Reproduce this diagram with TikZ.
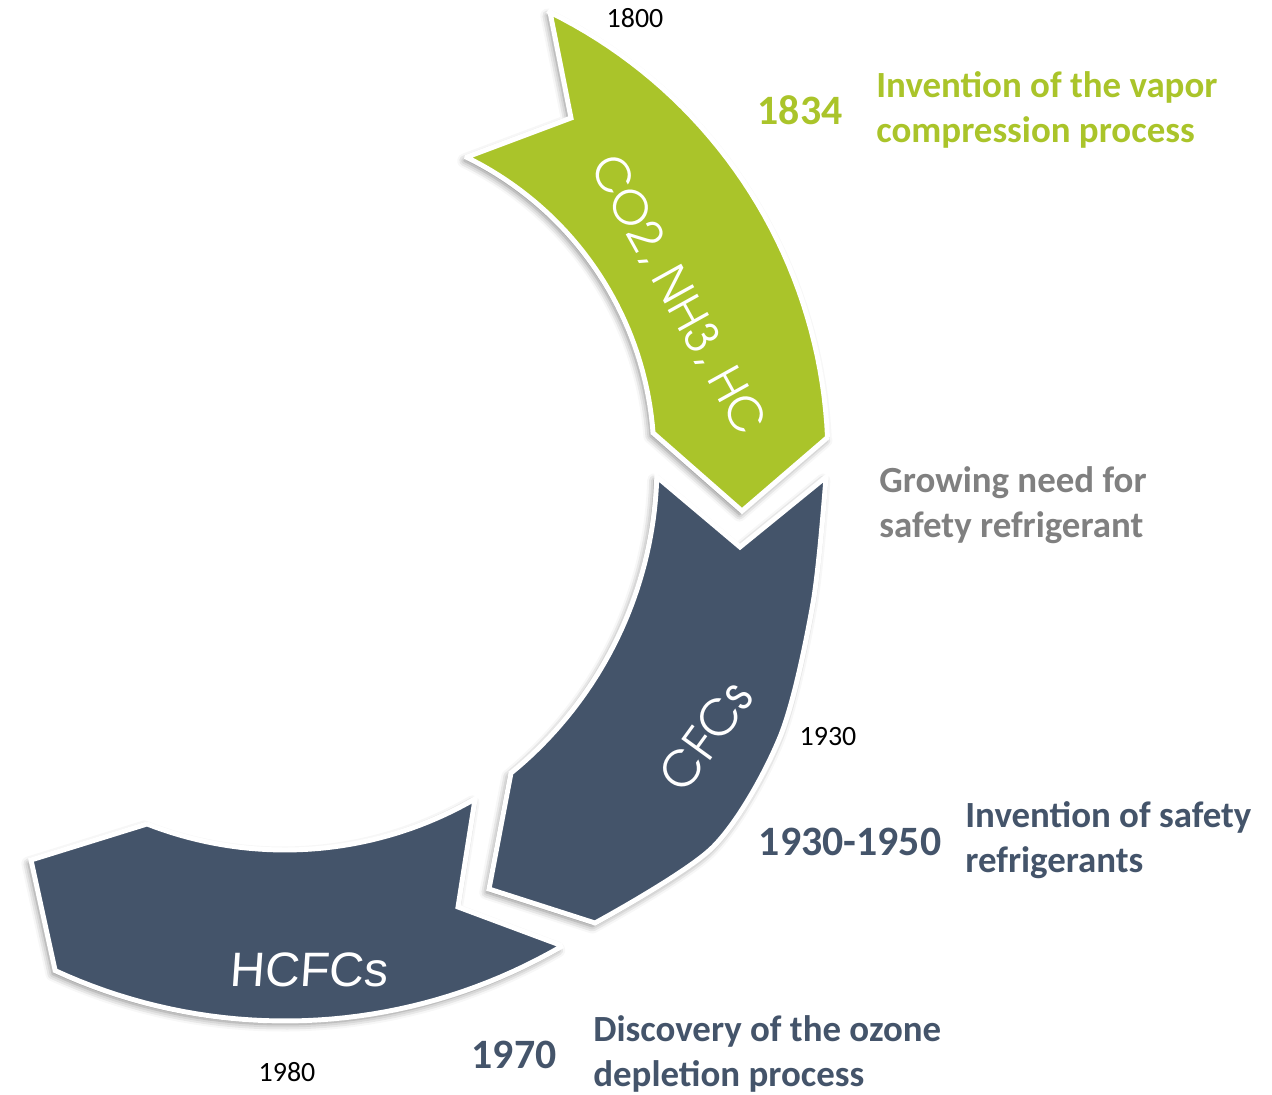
\documentclass[tikz,border=0pt]{standalone}
\usepackage{fontspec}
\setmainfont{Carlito}
\newfontfamily\bandfont{texgyreadventor-regular.otf}
\newfontfamily\hcfont{Liberation Sans}
\usepackage{tikz}
\usetikzlibrary{shadows.blur}
\definecolor{leaf}{RGB}{170,196,42}
\definecolor{slate}{RGB}{68,84,106}
\definecolor{ash}{RGB}{128,128,128}

\tikzset{
  band/.style={draw=white, line width=2.8pt, line join=miter,
    blur shadow={shadow xshift=-1.5pt, shadow yshift=-2pt, shadow blur radius=4pt, shadow opacity=50}},
  bandtext/.style={text=white, font=\bandfont\fontsize{26}{30}\selectfont},
  yearsmall/.style={font=\fontsize{15.9}{19}\selectfont},
  yearbig/.style={font=\bfseries\fontsize{23.8}{28}\selectfont},
  note/.style={anchor=west, align=left, inner sep=0pt, font=\bfseries\fontsize{21}{25.5}\selectfont},
}

\begin{document}
\begin{tikzpicture}[x=0.02cm,y=-0.02cm]
          \useasboundingbox (0,0) rectangle (1272,1095);

          % HCFCs
          \path[band, fill=slate] (147,824)
            -- plot[domain=111.4:59.9, variable=\t, samples=40] ({285+379*cos(\t)},{471+379*sin(\t)})
            -- (458,907) -- (560,945)
            -- plot[domain=59.9:114.7, variable=\t, samples=40] ({285+550*cos(\t)},{471+550*sin(\t)})
            -- (31,860) -- cycle;

          % CFCs
          \path[band, fill=slate] (657,477) -- (740,547) -- (826,477)
            -- plot[smooth] coordinates {(826,477) (813,603) (780,737) (713,847) (595,923)}
            -- (489,889) -- (511,773)
            -- plot[domain=50.7:1.7, variable=\t, samples=40] ({259+398*cos(\t)},{465+398*sin(\t)})
            -- cycle;

          % CO2, NH3, HC
          \path[band, fill=leaf] (550,12) -- (571,118) -- (467,157)
            -- plot[domain=-63.8:-4.3, variable=\t, samples=40] ({319+335*cos(\t)},{458+335*sin(\t)})
            -- (742,511) -- (828,437)
            -- plot[domain=-2.5:-63.8, variable=\t, samples=40] ({330+498*cos(\t)},{459+498*sin(\t)})
            -- cycle;

          \node (natural) at (678,295) [bandtext, rotate=-61] {CO2, NH3, HC};
          \node (cfc) at (706,736) [bandtext, font=\bandfont\fontsize{27.5}{30}\selectfont, rotate=54] {CFCs};
          \node (hcfc) at (310,970) [bandtext, font=\hcfont\fontsize{27.5}{30}\selectfont, xslant=0.07] {HCFCs};

          % years on the ring
          \node (y1800) at (635,18) [yearsmall] {1800};
          \node (y1930) at (828,737) [yearsmall] {1930};
          \node (y1980) at (287,1072) [yearsmall] {1980};

          % events
          \node (e1834) at (800,110) [yearbig, text=leaf] {1834};
          \node (t1834) at (876,110) [note, text=leaf] {Invention of the vapor\\compression process};

          \node (tneed) at (879,505) [note, text=ash] {Growing need for\\safety refrigerant};

          \node (e1930) at (850,842) [yearbig, text=slate] {1930-1950};
          \node (t1930) at (965,840) [note, text=slate] {Invention of safety\\refrigerants};

          \node (e1970) at (514,1055) [yearbig, text=slate] {1970};
          \node (t1970) at (593,1054) [note, text=slate] {Discovery of the ozone\\depletion process};
\end{tikzpicture}
\end{document}
